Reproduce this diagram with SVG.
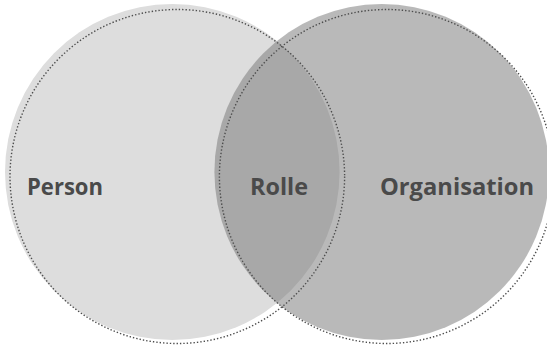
<svg xmlns="http://www.w3.org/2000/svg" width="547" height="346" viewBox="0 0 547 346">
<style>
.dot{fill:none;stroke:#4d4d4d;stroke-width:1.4;stroke-dasharray:1.4 2}
.lbl{font-family:"Open Sans","Noto Sans","Liberation Sans",sans-serif;font-weight:bold;font-size:23px;fill:#4a4a4a}
</style>
<rect width="547" height="346" fill="#ffffff"/>
<g id="person">
<ellipse cx="172.3" cy="172" rx="167.3" ry="168" fill="#dddddd"/>
</g>
<g id="organisation">
<ellipse cx="381.7" cy="172" rx="167.3" ry="168" fill="#737373" fill-opacity="0.5"/>
</g>
<g id="outlines">
<ellipse class="dot" cx="177.3" cy="176.5" rx="167.3" ry="167"/>
<ellipse class="dot" cx="386.7" cy="176.5" rx="167.3" ry="167"/>
</g>
<g id="labels">
<text class="lbl" x="27" y="195" textLength="76" lengthAdjust="spacingAndGlyphs">Person</text>
<text class="lbl" x="250" y="195" textLength="58" lengthAdjust="spacingAndGlyphs">Rolle</text>
<text class="lbl" x="380" y="195" textLength="154" lengthAdjust="spacingAndGlyphs">Organisation</text>
</g>
</svg>
